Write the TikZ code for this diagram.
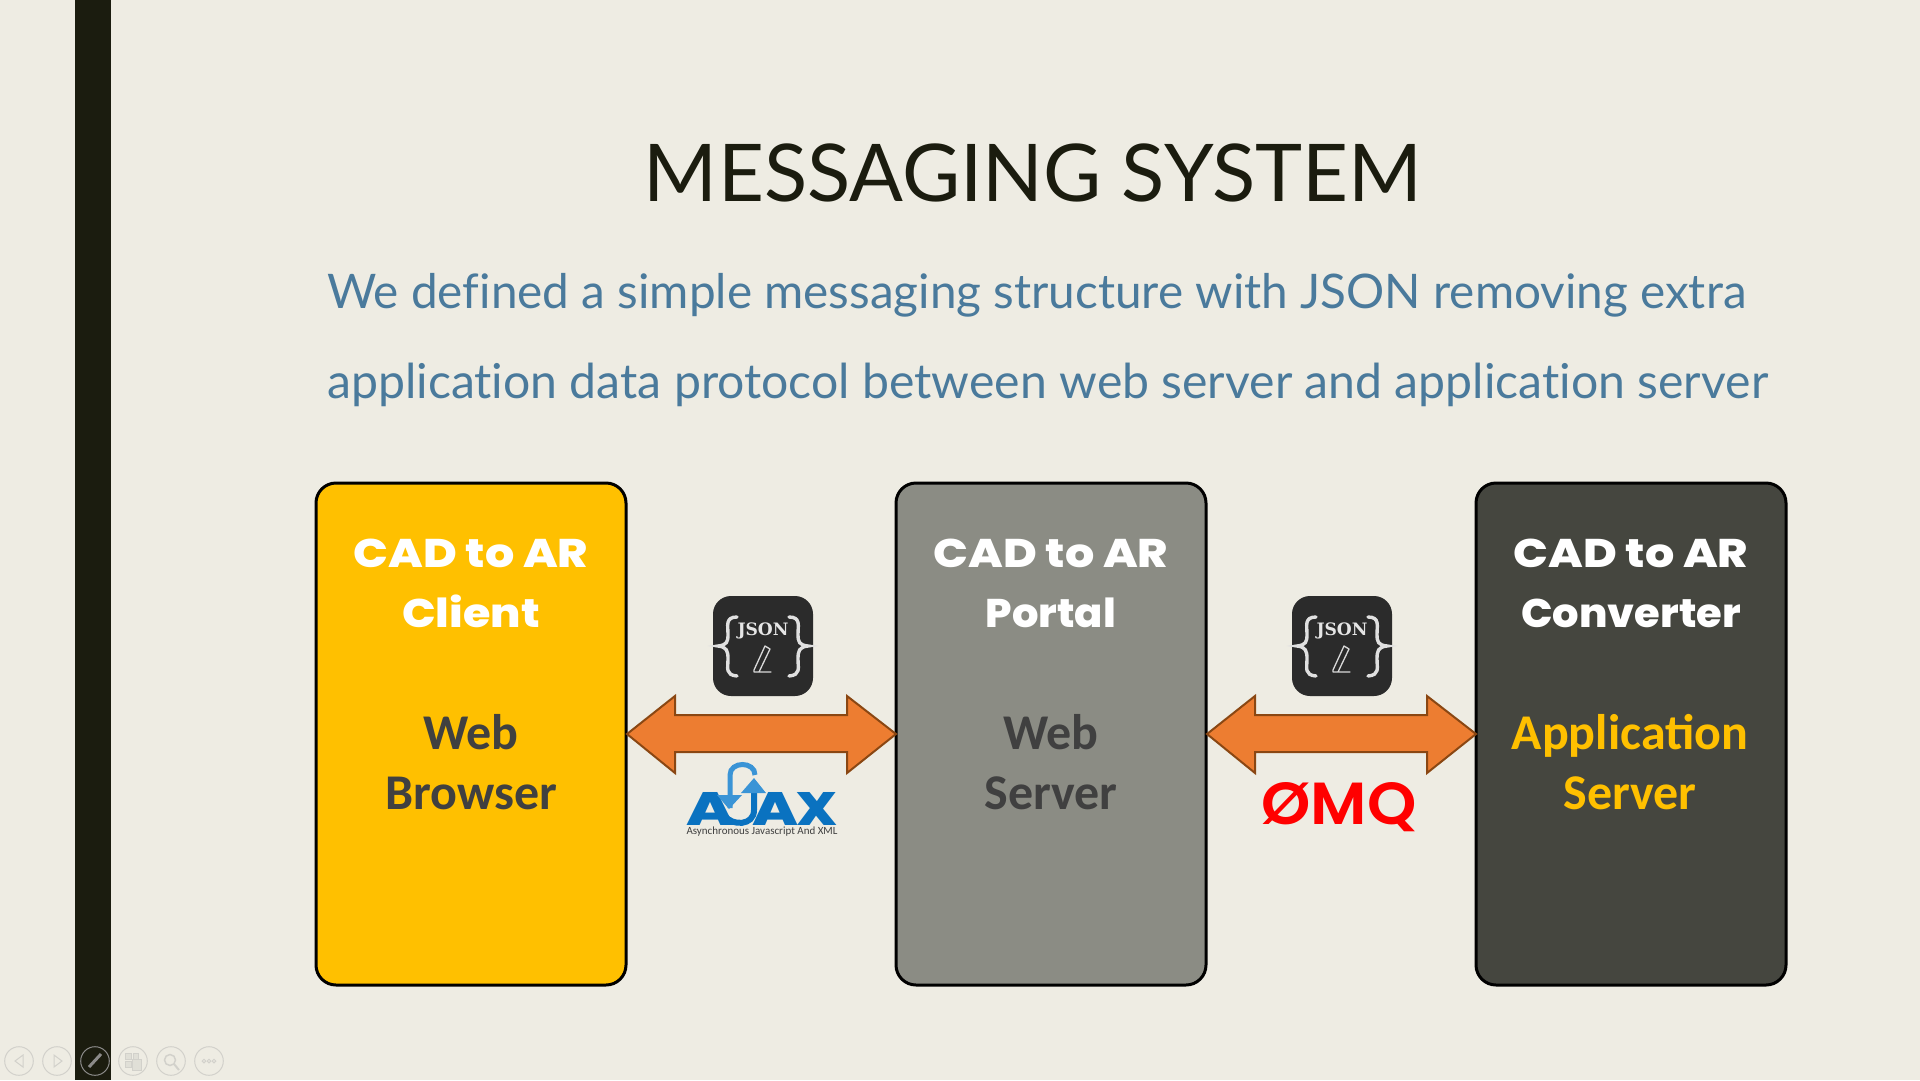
\documentclass[tikz,border=0pt]{standalone}
\usepackage{fontspec}
\usepackage{graphicx}
\setmainfont{Lato}[Ligatures=NoCommon]
\newfontfamily\boxfont{Carlito}
\newfontfamily\capfont{Poppins}[UprightFont=* ExtraBold]
\newfontfamily\midfont{Poppins}[UprightFont=* SemiBold]
\newfontfamily\iconfont{DejaVu Serif}[UprightFont=* Bold]
\definecolor{bgc}{HTML}{EEECE3}
\definecolor{barc}{HTML}{1B1C0F}
\definecolor{yel}{HTML}{FFC000}
\definecolor{grayb}{HTML}{8B8C84}
\definecolor{darkb}{HTML}{45463F}
\definecolor{txtd}{HTML}{404040}
\definecolor{bluet}{HTML}{4A7A9C}
\definecolor{orng}{HTML}{ED7D31}
\definecolor{orngd}{HTML}{8A4713}
\definecolor{ajaxb}{HTML}{0A72C0}
\definecolor{ajaxl}{HTML}{3A94D6}
\definecolor{navc}{HTML}{D2D1CB}
\tikzset{
 panel/.style={draw=black,line width=3pt,rounded corners=20pt},
 dblarrow/.style={fill=orng,draw=orngd,line width=2pt,line join=miter},
 navring/.style={draw=navc,line width=1pt},
 navicon/.style={draw=navc,line width=1pt,fill=navc!50!bgc},
 captext/.style={font=\capfont\fontsize{40}{40}\selectfont,text=white,anchor=base},
 subtext/.style={font=\boxfont\bfseries\fontsize{50}{50}\selectfont,anchor=base},
 iconbox/.style={fill=black!83,rounded corners=18pt},
 iconline/.style={draw=white!85!black,line width=1.3pt,line cap=round,line join=round},
 bracestroke/.style={draw=white!88!black,line width=3.4pt,line cap=round},
 loopline/.style={draw=ajaxl,line width=5pt},
}
\newcommand{\jsonicon}[2]{%
 \begin{scope}[shift={(#1,#2)}]
  \fill[iconbox] (0,0) rectangle (100,100);
  \node[inner sep=0,anchor=center,text=white!90!black] at (50,35) {\resizebox{51pt}{!}{\iconfont JSON}};
  \draw[bracestroke] (24,21) .. controls (12,21) and (15,30) .. (15,38) .. controls (15,46) and (14,49) .. (5,50) .. controls (14,51) and (15,55) .. (15,63) .. controls (15,72) and (12,79) .. (24,80);
  \draw[bracestroke] (76,21) .. controls (88,21) and (85,30) .. (85,38) .. controls (85,46) and (86,49) .. (95,50) .. controls (86,51) and (85,55) .. (85,63) .. controls (85,72) and (88,79) .. (76,80);
  \draw[iconline] (41,74) -- (52,50) -- (57,53) -- (46,76) -- (41,76) -- cycle (46,76) -- (58,76);
 \end{scope}}
\begin{document}
\begin{tikzpicture}[x=1pt,y=-1pt]
\useasboundingbox (0,0) rectangle (1920,1080);
\fill[bgc] (0,0) rectangle (1920,1080);
\fill[barc] (75,0) rectangle (111,1080);

\node[inner sep=0,anchor=base] (title) at (1033,201) {\resizebox{778pt}{!}{\fontsize{76}{76}\selectfont\color{barc}MESSAGING SYSTEM}};
\node[inner sep=0,anchor=base west] (sub1) at (327,308) {\resizebox{1419pt}{!}{\fontsize{46}{46}\selectfont\color{bluet}We defined a simple messaging structure with JSON removing extra}};
\node[inner sep=0,anchor=base west] (sub2) at (327,398) {\resizebox{1441pt}{!}{\fontsize{46}{46}\selectfont\color{bluet}application data protocol between web server and application server}};

\draw[panel,fill=yel] (316,483) rectangle (626,985);
\draw[panel,fill=grayb] (896,483) rectangle (1206,985);
\draw[panel,fill=darkb] (1476,483) rectangle (1786,985);

\node[captext] (c1a) at (471,567) {\scalebox{1.15}[1]{CAD to AR}};
\node[captext] (c1b) at (471,627) {\scalebox{1.11}[1]{Client}};
\node[subtext,text=txtd] (c1c) at (471,749) {Web};
\node[subtext,text=txtd] (c1d) at (471,809) {Browser};
\node[captext] (c2a) at (1051,567) {\scalebox{1.15}[1]{CAD to AR}};
\node[captext] (c2b) at (1051,627) {\scalebox{1.04}[1]{Portal}};
\node[subtext,text=txtd] (c2c) at (1051,749) {Web};
\node[subtext,text=txtd] (c2d) at (1051,809) {Server};
\node[captext] (c3a) at (1631,567) {\scalebox{1.15}[1]{CAD to AR}};
\node[captext] (c3b) at (1631,627) {\scalebox{1.04}[1]{Converter}};
\node[subtext,text=yel] (c3c) at (1630,749) {Application};
\node[subtext,text=yel] (c3d) at (1630,809) {Server};

\draw[dblarrow] (627,734) -- (675,696) -- (675,715) -- (847,715) -- (847,696) -- (896,734) -- (847,773) -- (847,752) -- (675,752) -- (675,773) -- cycle;
\draw[dblarrow] (1207,734) -- (1255,696) -- (1255,715) -- (1427,715) -- (1427,696) -- (1476,734) -- (1427,773) -- (1427,752) -- (1255,752) -- (1255,773) -- cycle;

\jsonicon{713}{596}
\jsonicon{1292}{596}

% AJAX logo
\node[inner sep=0,anchor=base,text=ajaxb] (aj1) at (711,825) {\resizebox{48pt}{33pt}{\capfont A}};
\node[inner sep=0,anchor=base,text=ajaxb] (aj2) at (776,825) {\resizebox{46pt}{33pt}{\capfont A}};
\node[inner sep=0,anchor=base,text=ajaxb] (aj3) at (817,825) {\resizebox{41pt}{33pt}{\capfont X}};
\draw[loopline] (730,808) -- (730,775) .. controls (730,761) and (755,761) .. (755,775);
\fill[ajaxl] (717,795) -- (742,795) -- (729,809) -- cycle;
\draw[draw=ajaxb,line width=6pt] (754,785) -- (754,810) .. controls (754,826) and (732,826) .. (725,816);
\fill[ajaxl] (741,793) -- (766,793) -- (754,778) -- cycle;
\node[inner sep=0,anchor=center,text=darkgray] (ajcap) at (762,832) {\resizebox{151pt}{!}{\boxfont Asynchronous Javascript And XML}};

% ZeroMQ
\node[inner sep=0,anchor=base,text=red] (zmq) at (1339,824) {\resizebox{155pt}{42pt}{\midfont ØMQ}};

% nav buttons
\foreach \cx in {19,57,133,171,209} \draw[navring] (\cx,1061) circle (14.3);
\draw[draw=gray!90!bgc,line width=1pt] (95,1061) circle (14.3);
\draw[navring] (23,1055) -- (15,1061) -- (23,1067) -- cycle;
\draw[navring] (54,1055) -- (62,1061) -- (54,1067) -- cycle;
\draw[draw=gray!90!bgc,line width=3pt] (89,1067) -- (101,1054);
\draw[navicon] (125,1053) rectangle (131,1059);
\draw[navicon] (133,1053) rectangle (138,1059);
\draw[navicon] (125,1061) rectangle (131,1067);
\draw[navicon] (132,1059) rectangle (141,1070);
\draw[navring,line width=1.5pt] (170,1060) circle (5.5);
\draw[navring,line width=2pt] (174,1064) -- (179,1070);
\foreach \cx in {204,209,214} \draw[navring] (\cx,1061) circle (1.8);
\end{tikzpicture}
\end{document}
